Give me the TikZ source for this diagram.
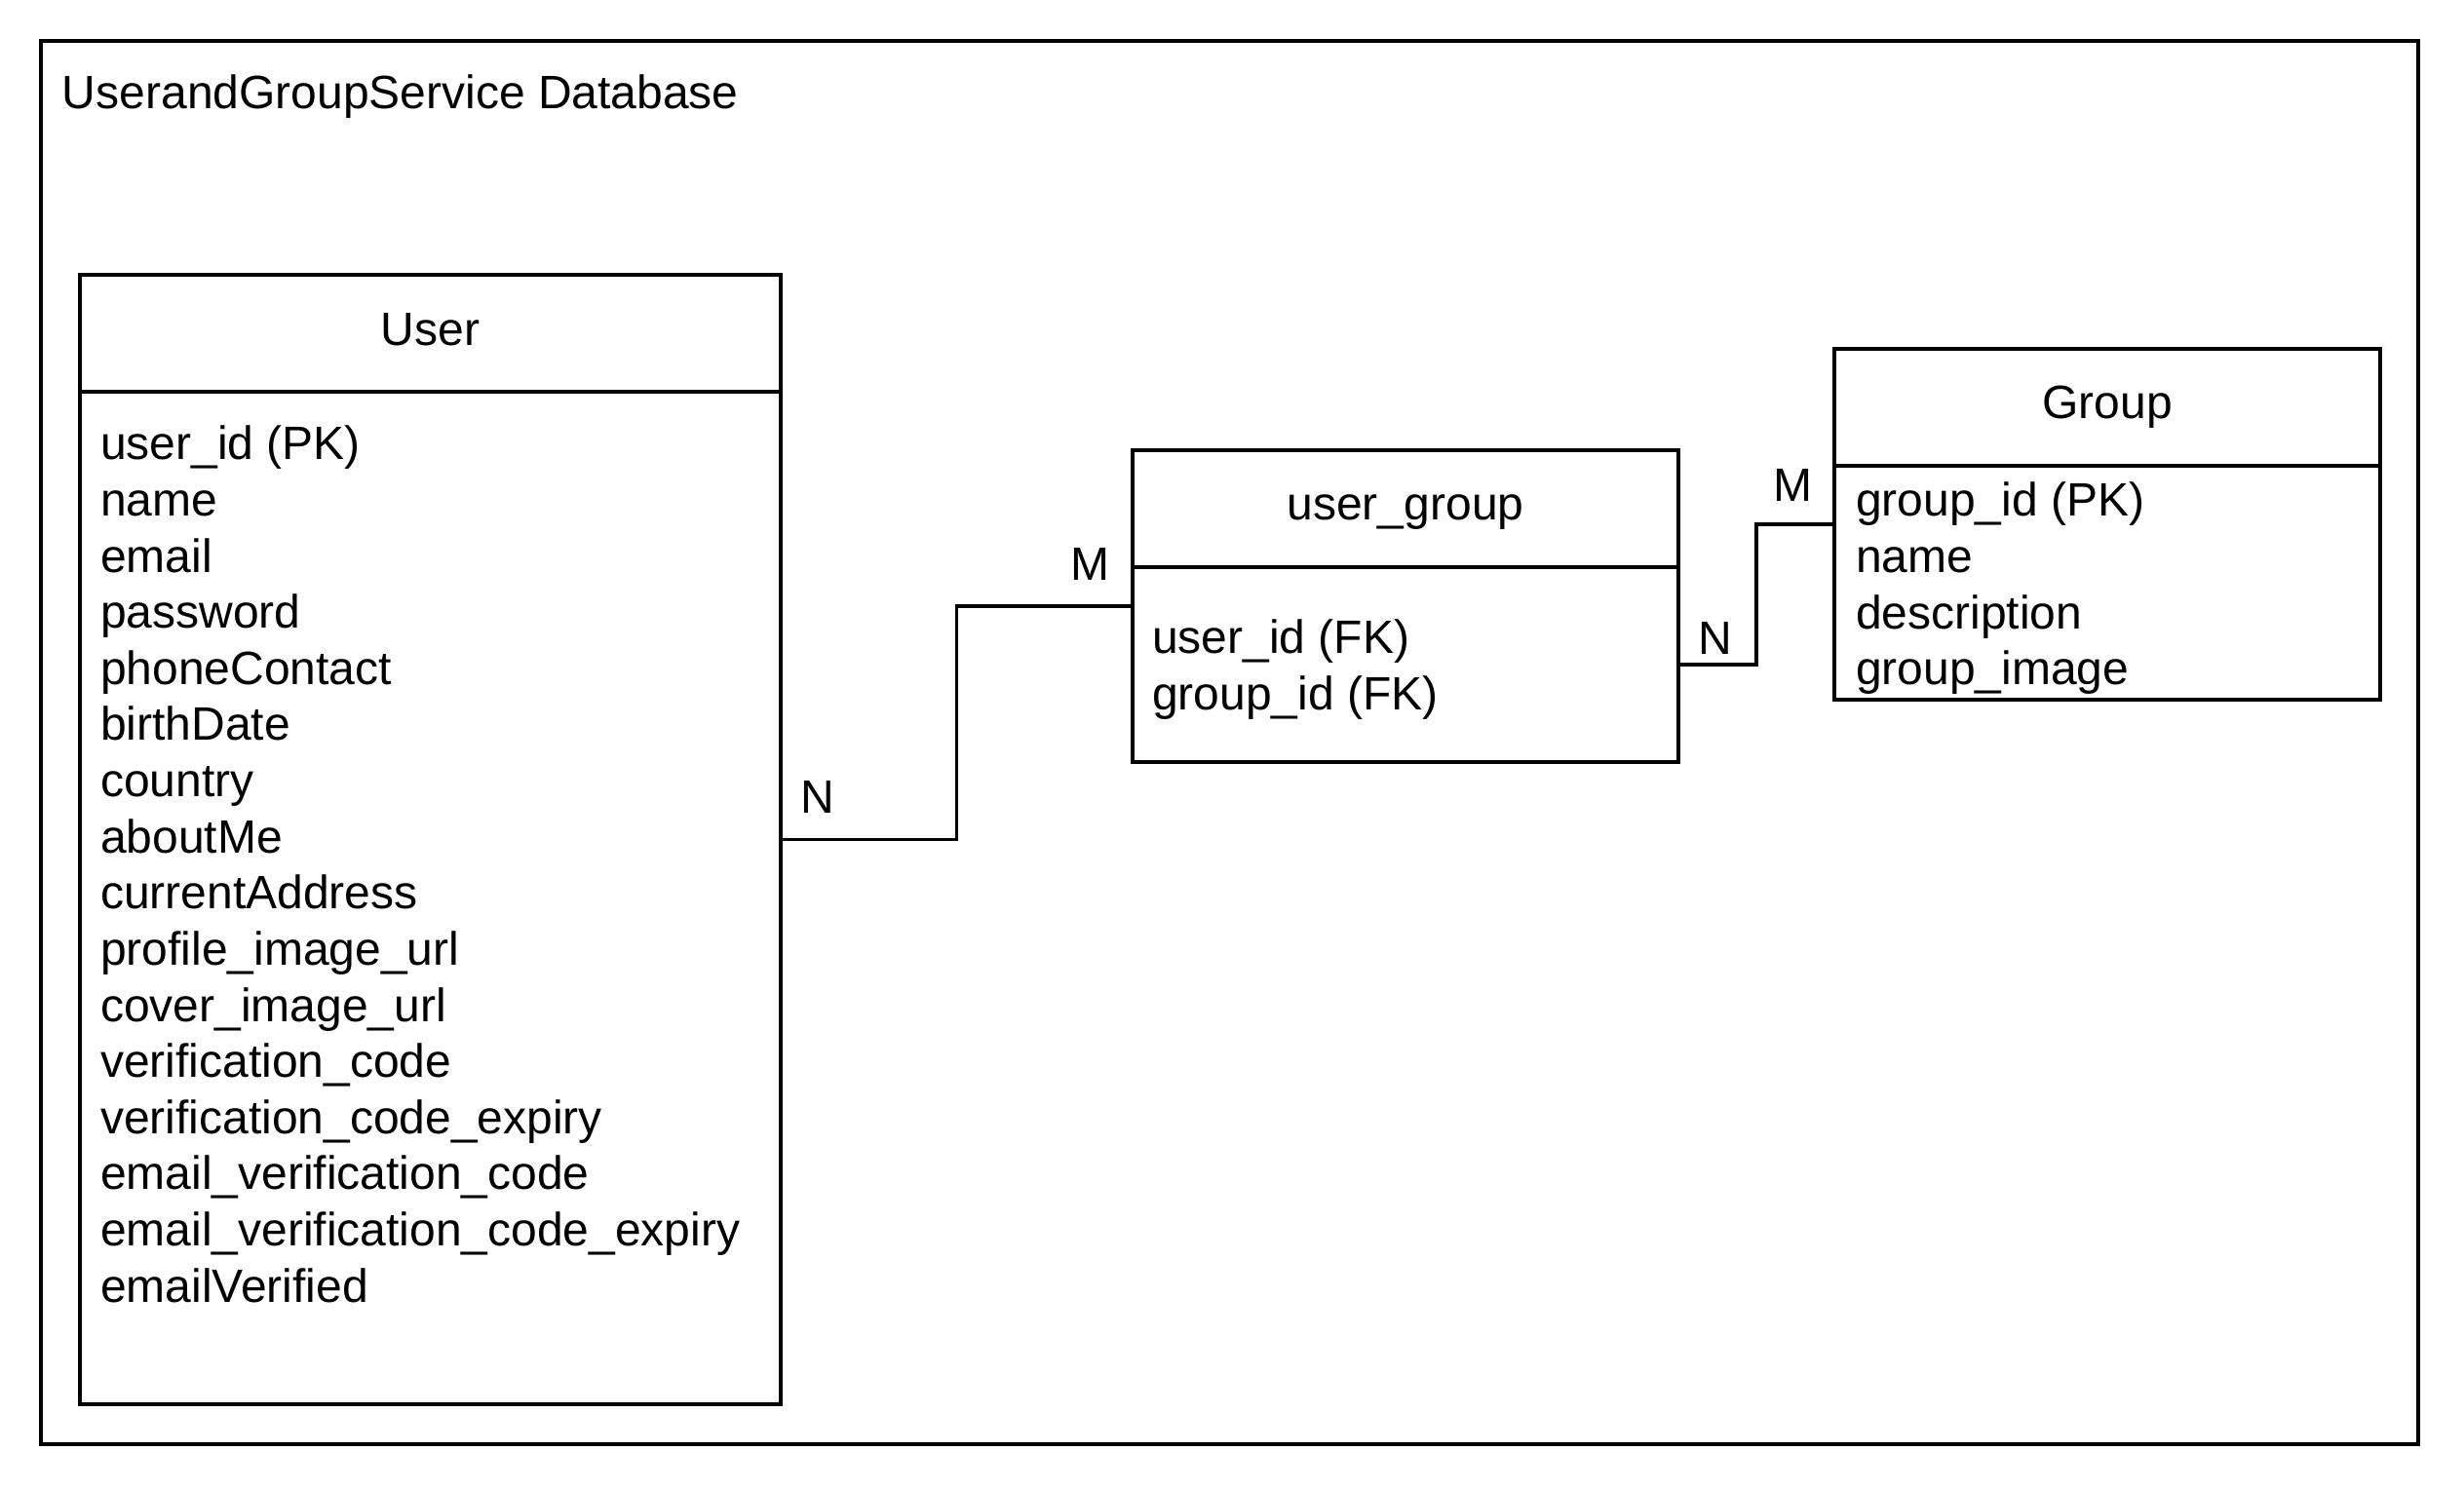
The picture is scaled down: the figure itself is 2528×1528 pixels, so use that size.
\documentclass[tikz,border=0pt]{standalone}
\usepackage{fontspec}
\setmainfont{Liberation Sans}
\usetikzlibrary{calc,fit}
\begin{document}
\begin{tikzpicture}[x=0.25pt,y=-0.25pt,line width=0.8pt,
  box/.style={draw,line width=0.8pt,inner sep=0pt,outer sep=0pt},
  txt/.style={inner sep=0pt,outer sep=0pt,anchor=base west,font=\fontsize{12pt}{14.4pt}\selectfont},
  ttl/.style={inner sep=0pt,outer sep=0pt,anchor=base,font=\fontsize{12pt}{14.4pt}\selectfont},
  conn/.style={draw,line width=0.8pt}]
\useasboundingbox[fill=white] (0,0) rectangle (2528,1528);
% frame
\node[box,fit={(42,42) (2481,1482)}] (outer) {};
\node[txt] (title) at (64,112) {UserandGroupService Database};
% User
\node[box,fit={(82,282) (801,1441)}] (user) {};
\draw (user.west |- 0,402) -- (user.east |- 0,402);
\node[ttl] (usertitle) at (441.5,355) {User};
\foreach \t [count=\i from 0] in {user\_id (PK),name,email,password,phoneContact,birthDate,country,aboutMe,currentAddress,profile\_image\_url,cover\_image\_url,verification\_code,verification\_code\_expiry,email\_verification\_code,email\_verification\_code\_expiry,emailVerified}
  \node[txt] (ua\i) at (103,472+57.6*\i) {\t};
% user_group
\node[box,fit={(1162,462) (1722,782)}] (ug) {};
\draw (ug.west |- 0,582) -- (ug.east |- 0,582);
\node[ttl] (ugtitle) at (1442,534) {user\_group};
\node[txt] (uga1) at (1182,671) {user\_id (FK)};
\node[txt] (uga2) at (1182,729) {group\_id (FK)};
% Group
\node[box,fit={(1882,358) (2442,718)}] (grp) {};
\draw (grp.west |- 0,478) -- (grp.east |- 0,478);
\node[ttl] (grptitle) at (2162,430) {Group};
\foreach \t [count=\i from 0] in {group\_id (PK),name,description,group\_image}
  \node[txt] (ga\i) at (1904,530+57.6*\i) {\t};
% connectors
\draw[conn] (user.east) -| ($(user.east)!0.5!(ug.west)$) |- (ug.west);
\coordinate (ugp) at ($(ug.east)+(0,60)$);
\draw[conn] (ugp) -| ($(ugp)!0.5!(grp.west)$) |- (grp.west);
% labels
\node[txt] (n1) at (821,835) {N};
\node[txt] (m1) at (1098,596) {M};
\node[txt] (n2) at (1742,672) {N};
\node[txt] (m2) at (1819,515) {M};
\end{tikzpicture}
\end{document}
